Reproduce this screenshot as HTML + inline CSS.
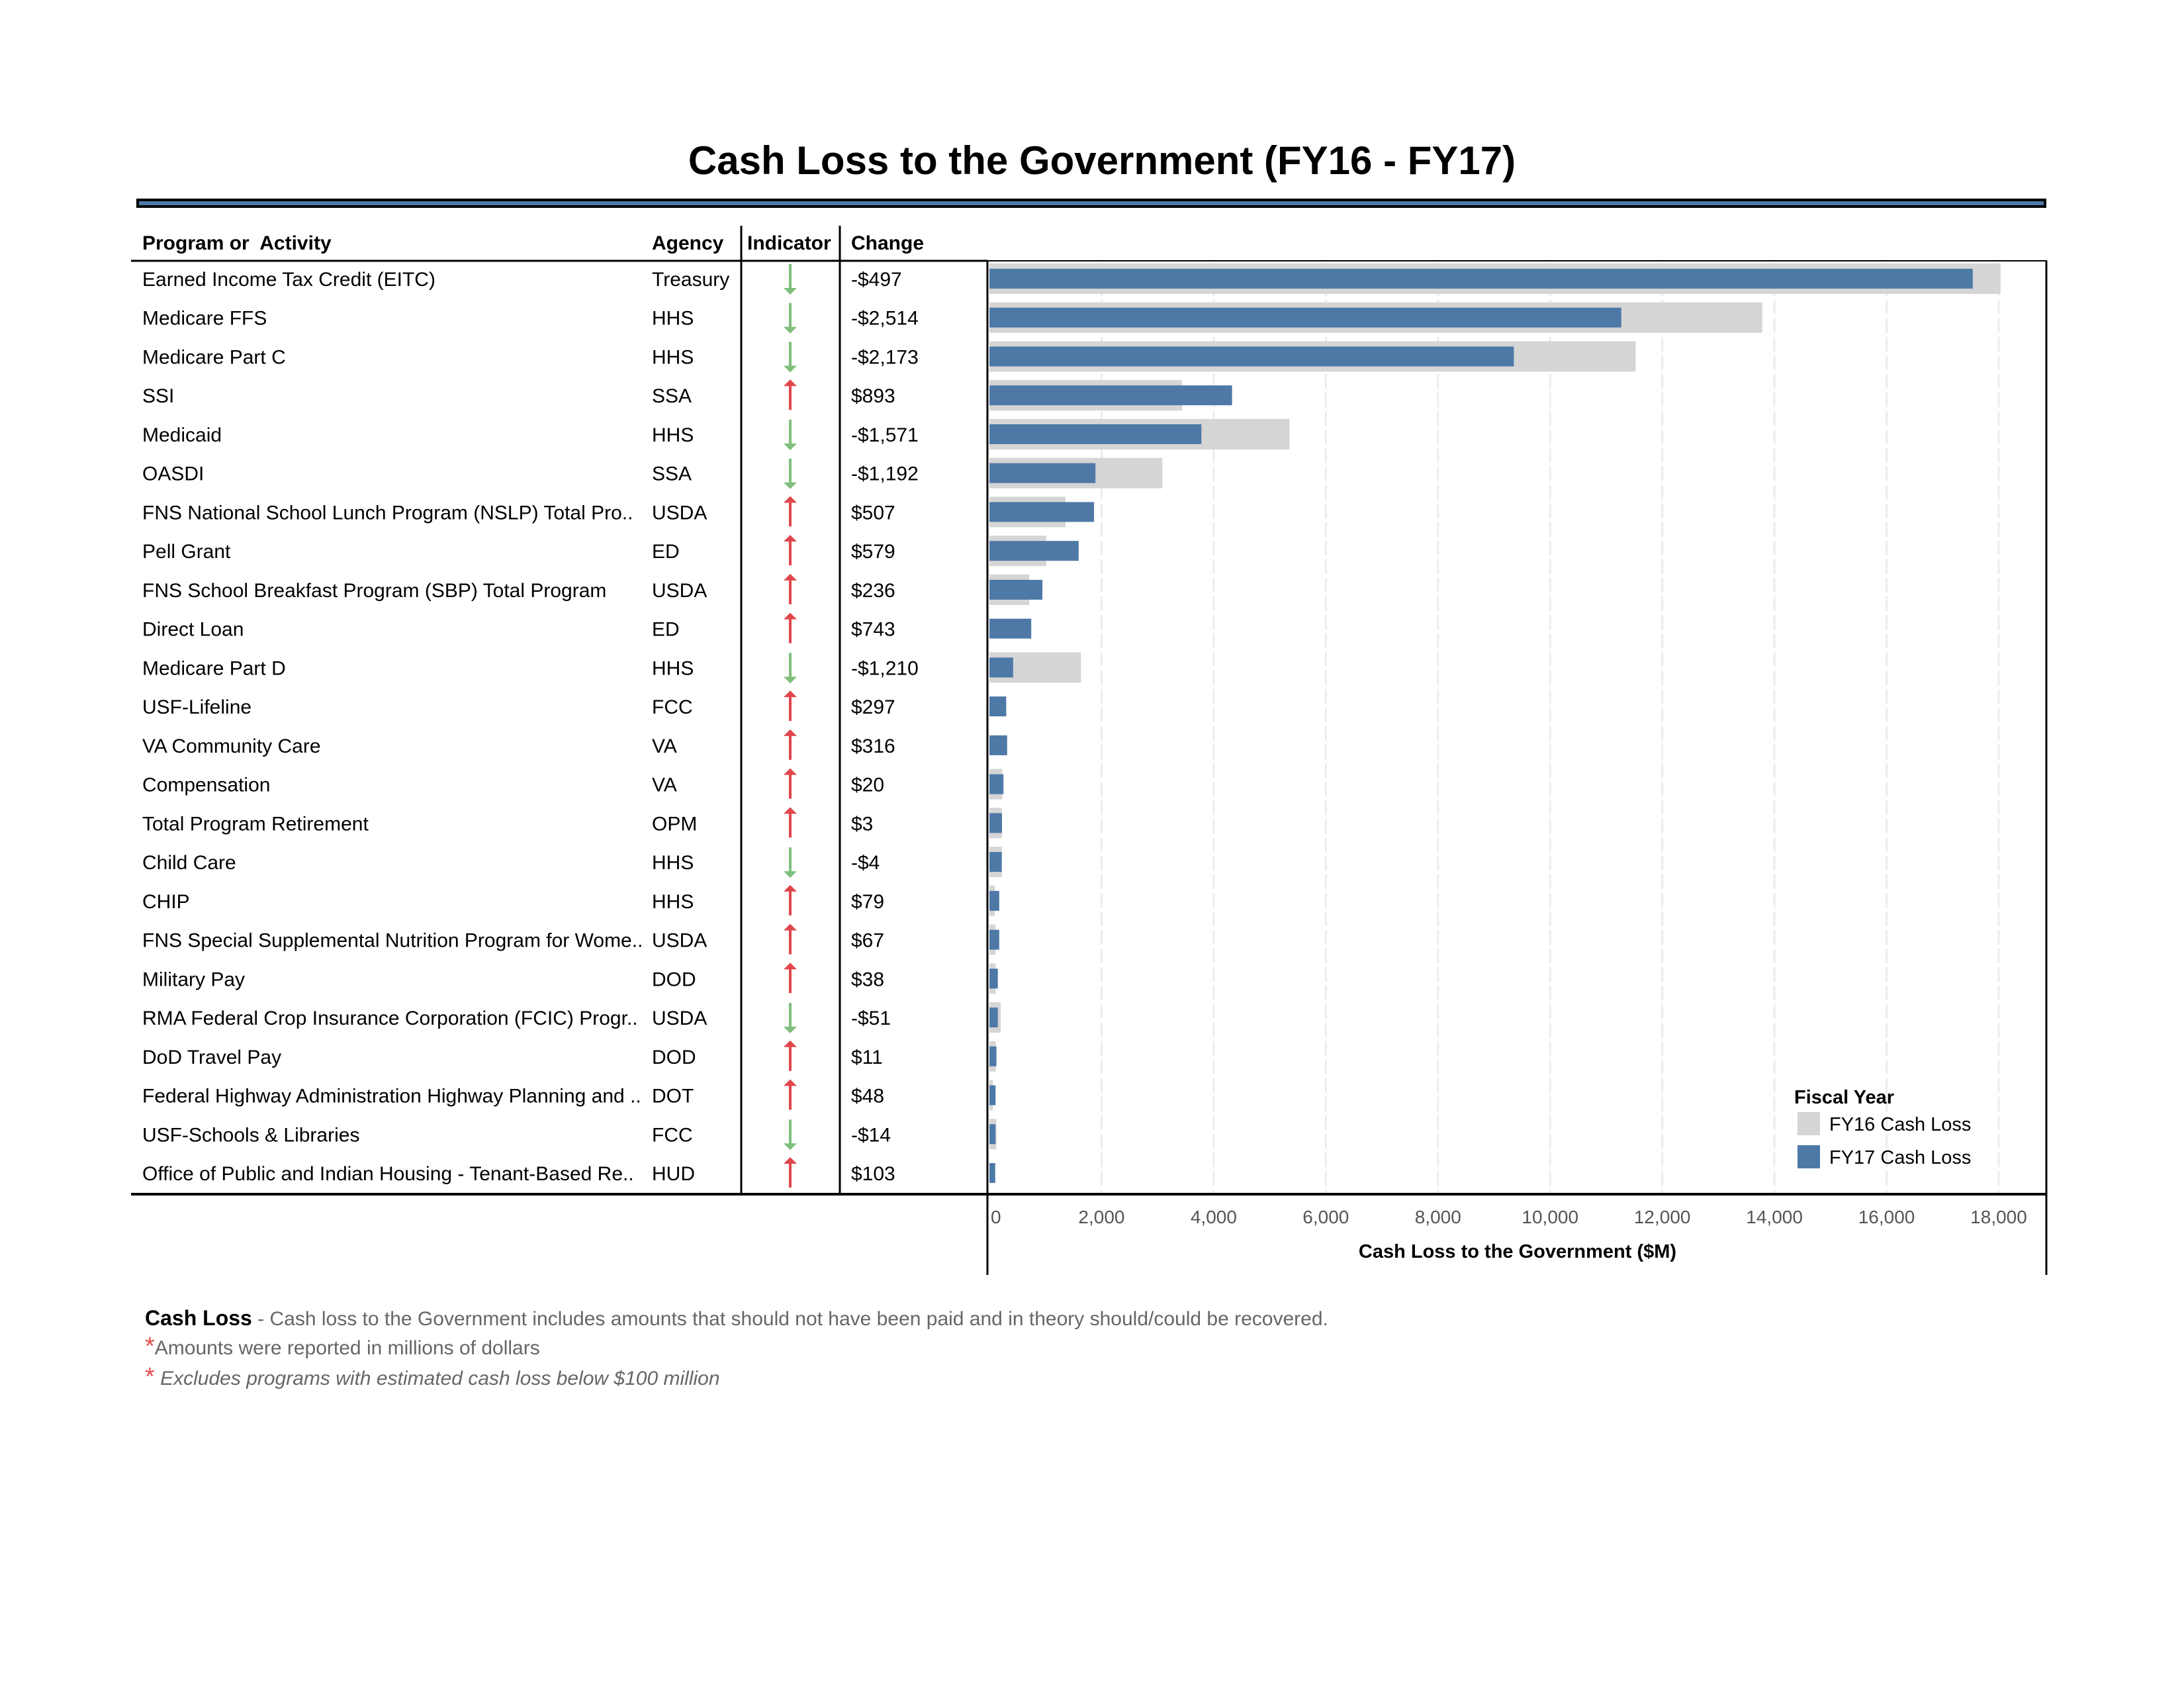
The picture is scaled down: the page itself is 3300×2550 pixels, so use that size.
<!DOCTYPE html>
<html><head><meta charset="utf-8"><style>
html,body{margin:0;padding:0;background:#fff;}
svg{display:block;font-family:"Liberation Sans",Arial,sans-serif;}
</style></head><body>
<svg id="chart" width="3300" height="2550" viewBox="0 0 3300 2550">
<text x="1665" y="263" font-size="60" font-weight="bold" text-anchor="middle">Cash Loss to the Government (FY16 - FY17)</text>
<rect x="208" y="302" width="2882" height="10" fill="#4e79a7" stroke="#000" stroke-width="4"/>
<g font-size="30" font-weight="bold">
<text x="215" y="377">Program or&#160; Activity</text>
<text x="985" y="377">Agency</text>
<text x="1129" y="377">Indicator</text>
<text x="1286" y="377">Change</text>
</g>
<line x1="198" y1="394" x2="1492" y2="394" stroke="#000" stroke-width="3"/>
<line x1="1492" y1="394" x2="3093" y2="394" stroke="#000" stroke-width="2"/>
<line x1="1120" y1="341" x2="1120" y2="1804" stroke="#000" stroke-width="3"/>
<line x1="1269" y1="341" x2="1269" y2="1804" stroke="#000" stroke-width="3"/>
<line x1="1492" y1="394" x2="1492" y2="1926" stroke="#000" stroke-width="3"/>
<line x1="3092" y1="394" x2="3092" y2="1926" stroke="#000" stroke-width="3"/>
<g id="grid"></g>
<g id="bars"></g>
<g id="rows"></g>
<line x1="198" y1="1804" x2="3093" y2="1804" stroke="#000" stroke-width="4"/>
<g id="ticks" font-size="28" fill="#555"></g>
<text x="2293" y="1900" font-size="29" font-weight="bold" text-anchor="middle">Cash Loss to the Government ($M)</text>
<g>
<text x="2711" y="1667" font-size="29" font-weight="bold">Fiscal Year</text>
<rect x="2716" y="1680" width="34" height="35" fill="#d5d5d5"/>
<text x="2764" y="1708" font-size="29">FY16 Cash Loss</text>
<rect x="2716" y="1730" width="34" height="35" fill="#4e79a7"/>
<text x="2764" y="1758" font-size="29">FY17 Cash Loss</text>
</g>
<g font-size="30" fill="#666">
<text x="219" y="2002"><tspan font-weight="bold" fill="#000" font-size="32">Cash Loss</tspan> - Cash loss to the Government includes amounts that should not have been paid and in theory should/could be recovered.</text>
<text x="219" y="2046"><tspan fill="#e05050" font-size="38">*</tspan>Amounts were reported in millions of dollars</text>
<text x="219" y="2092" font-style="italic"><tspan fill="#e05050" font-size="38" font-style="normal">*</tspan> Excludes programs with estimated cash loss below $100 million</text>
</g>
</svg>
<script>
const programs = ["Earned Income Tax Credit (EITC)","Medicare FFS","Medicare Part C","SSI","Medicaid","OASDI","FNS National School Lunch Program (NSLP) Total Pro..","Pell Grant","FNS School Breakfast Program (SBP) Total Program","Direct Loan","Medicare Part D","USF-Lifeline","VA Community Care","Compensation","Total Program Retirement","Child Care","CHIP","FNS Special Supplemental Nutrition Program for Wome..","Military Pay","RMA Federal Crop Insurance Corporation (FCIC) Progr..","DoD Travel Pay","Federal Highway Administration Highway Planning and ..","USF-Schools & Libraries","Office of Public and Indian Housing - Tenant-Based Re.."];
const agencies = ["Treasury","HHS","HHS","SSA","HHS","SSA","USDA","ED","USDA","ED","HHS","FCC","VA","VA","OPM","HHS","HHS","USDA","DOD","USDA","DOD","DOT","FCC","HUD"];
const changes = [-497,-2514,-2173,893,-1571,-1192,507,579,236,743,-1210,297,316,20,3,-4,79,67,38,-51,11,48,-14,103];
const fy17 = [17537,11269,9353,4328,3781,1891,1866,1592,945,746,423,300,316,250,224,220,175,175,150,150,125,110,110,103];
const fy16 = [18034,13783,11526,3435,5352,3083,1359,1013,709,3,1633,3,0,230,221,224,96,108,112,201,114,62,124,0];
const ticks = [0,2000,4000,6000,8000,10000,12000,14000,16000,18000];

const NS="http://www.w3.org/2000/svg";
const X0=1495, PX=(3020-1495)/18000;
const xs=v=>X0+v*PX;
const ROW0=421, PITCH=58.74;
const ys=i=>ROW0+i*PITCH;
function mk(tag,attrs,parent){const e=document.createElementNS(NS,tag);for(const k in attrs)e.setAttribute(k,attrs[k]);parent.appendChild(e);return e;}
const grid=document.getElementById('grid'), bars=document.getElementById('bars'), rows=document.getElementById('rows'), tk=document.getElementById('ticks');
ticks.forEach(t=>{
  if(t>0){const l=mk('line',{x1:xs(t),x2:xs(t),y1:397,y2:1802,stroke:'#ececec','stroke-width':3,'stroke-dasharray':'22 6'},grid);
  
  }
  const tx=mk('text',{x:t===0?xs(t)+2:xs(t),y:1848,'text-anchor':t===0?'start':'middle'},tk);
  tx.textContent=t.toLocaleString('en-US');
  
  
});
const fmt=v=>(v<0?'-$':'$')+Math.abs(v).toLocaleString('en-US');
programs.forEach((p,i)=>{
  const y=ys(i);
  const g16=mk('rect',{x:X0,y:y-23,width:Math.max(0,xs(fy16[i])-X0),height:46,fill:'#d5d5d5'},bars);
  
  
  const b17=mk('rect',{x:X0,y:y-15,width:Math.max(0,xs(fy17[i])-X0),height:30,fill:'#4e79a7'},bars);
  
  
  const t1=mk('text',{x:215,y:y+11,'font-size':30},rows);t1.textContent=p;
  
  
  const t2=mk('text',{x:985,y:y+11,'font-size':30},rows);t2.textContent=agencies[i];
  
  
  const t3=mk('text',{x:1286,y:y+11,'font-size':30},rows);t3.textContent=fmt(changes[i]);
  
  
  const up=changes[i]>0, col=up?'#e0474c':'#7fbf7b';
  const a=mk('g',{},rows);
  
  
  mk('line',{x1:1194,x2:1194,y1:y-22,y2:y+22,stroke:col,'stroke-width':4},a);
  if(up) mk('polygon',{points:`1184,${y-14} 1194,${y-24} 1204,${y-14}`,fill:col},a);
  else mk('polygon',{points:`1184,${y+14} 1194,${y+24} 1204,${y+14}`,fill:col},a);
});
</script>
</body></html>
